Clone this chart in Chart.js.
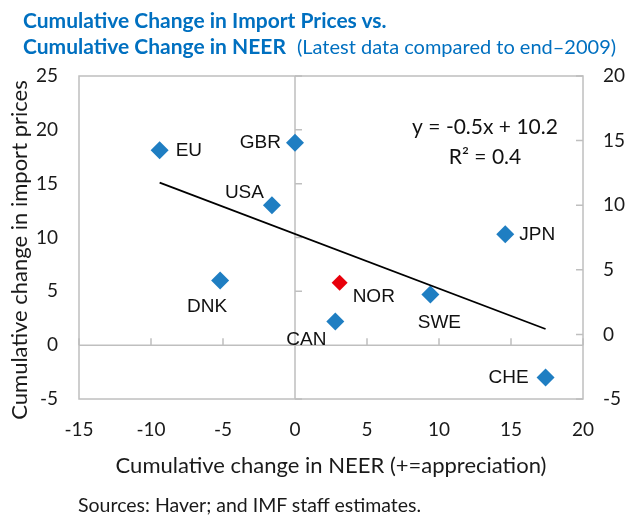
<!DOCTYPE html>
<html>
<head>
<meta charset="utf-8">
<script src="https://cdn.jsdelivr.net/npm/chart.js@4.4.1/dist/chart.umd.min.js"></script>
<style>
  html, body { margin: 0; padding: 0; background: #fff; }
  #wrap { position: relative; width: 626px; height: 516px; overflow: hidden; }
  #c { position: absolute; left: 0; top: 0; }
  #title { position: absolute; left: 23px; top: 7px; font-family: Lato, sans-serif; color: #0070C0; font-size: 21px; line-height: 26px; white-space: nowrap; }
  #title b { font-weight: 700; }
  #title .sub { font-weight: 400; font-size: 20px; margin-left: 11px; }
  #source { position: absolute; left: 78px; top: 494px; font-family: Lato, sans-serif; font-size: 19.5px; line-height: 22px; color: #1a1a1a; white-space: nowrap; }
</style>
</head>
<body>
<div id="wrap">
  <canvas id="c" width="626" height="516"></canvas>
  <div id="title"><b>Cumulative Change in Import Prices vs.</b><br><b>Cumulative Change in NEER</b><span class="sub">(Latest data compared to end–2009)</span></div>
  <div id="source">Sources: Haver; and IMF staff estimates.</div>
</div>
<script>
// ---- Data ----
const countries = ['EU', 'GBR', 'USA', 'DNK', 'NOR', 'SWE', 'CAN', 'JPN', 'CHE'];
const neerChange = [-9.4, 0.0, -1.6, -5.2, 3.1, 9.4, 2.8, 14.6, 17.4];
const importPriceChange = [18.1, 18.8, 13.0, 6.0, 5.8, 4.7, 2.2, 10.3, -3.0];
const highlightCountry = 'NOR';
const trendNeer = [-9.4, 17.4];
const trendImport = [15.1, 1.5];
const trendEquation = 'y = -0.5x + 10.2';
const trendR2 = 'R² = 0.4';
const xTicks = [-15, -10, -5, 0, 5, 10, 15, 20];
const yLeftTicks = [-5, 0, 5, 10, 15, 20, 25];
const yRightTicks = [-5, 0, 5, 10, 15, 20];
const xTitle = 'Cumulative change in NEER (+=appreciation)';
const yTitle = 'Cumulative change in import prices';

// ---- Styling / layout ----
const BLUE = '#1F7EC2';
const RED = '#E8000B';
const GRAY = '#BFBFBF';
const TICK_FONT = { family: 'Lato', size: 19 };
const labelPlacement = {
  EU:  { dx: 16,  dy: 0,  align: 'left' },
  GBR: { dx: -14, dy: 0,  align: 'right' },
  USA: { dx: -8,  dy: -12, align: 'right' },
  DNK: { dx: -13, dy: 26, align: 'center' },
  NOR: { dx: 13,  dy: 14, align: 'left' },
  SWE: { dx: 9,   dy: 28, align: 'center' },
  CAN: { dx: -29, dy: 18, align: 'center' },
  JPN: { dx: 14,  dy: 0,  align: 'left' },
  CHE: { dx: -17, dy: 0,  align: 'right' }
};

const points = countries.map((c, i) => ({ x: neerChange[i], y: importPriceChange[i], label: c }));
const trendPoints = trendNeer.map((x, i) => ({ x: x, y: trendImport[i] }));

const decorPlugin = {
  id: 'decor',
  beforeDatasetsDraw(chart) {
    const { ctx, chartArea: a, scales } = chart;
    const x0 = scales.x.getPixelForValue(0);
    const y0 = scales.y.getPixelForValue(0);
    ctx.save();
    ctx.strokeStyle = GRAY;
    ctx.lineWidth = 1.5;
    ctx.beginPath();
    ctx.moveTo(x0, a.top); ctx.lineTo(x0, a.bottom);
    ctx.moveTo(a.left, y0); ctx.lineTo(a.right, y0);
    yLeftTicks.forEach(v => { const py = scales.y.getPixelForValue(v); ctx.moveTo(x0, py); ctx.lineTo(x0 + 7, py); });
    xTicks.forEach(v => { const px = scales.x.getPixelForValue(v); ctx.moveTo(px, y0); ctx.lineTo(px, y0 - 7); });
    yRightTicks.forEach(v => { const py = scales.y2.getPixelForValue(v); ctx.moveTo(a.right, py); ctx.lineTo(a.right - 7, py); });
    ctx.stroke();
    ctx.strokeRect(a.left, a.top, a.right - a.left, a.bottom - a.top);
    ctx.restore();

    // y title
    ctx.save();
    ctx.fillStyle = '#1a1a1a';
    ctx.font = '22px Lato';
    ctx.textAlign = 'center';
    ctx.textBaseline = 'middle';
    ctx.translate(20, 250);
    ctx.rotate(-Math.PI / 2);
    ctx.fillText(yTitle, 0, 0);
    ctx.restore();
  },
  afterDatasetsDraw(chart) {
    const { ctx, chartArea: a } = chart;
    const meta = chart.getDatasetMeta(0);
    ctx.save();
    ctx.fillStyle = '#111';
    ctx.font = '19px "Liberation Sans", Arial, sans-serif';
    ctx.textBaseline = 'middle';
    meta.data.forEach((el, i) => {
      const p = labelPlacement[countries[i]];
      ctx.textAlign = p.align;
      ctx.fillText(countries[i], el.x + p.dx, el.y + p.dy);
    });
    ctx.font = '21px Lato';
    ctx.textAlign = 'center';
    ctx.fillText(trendEquation, a.right - 98, a.top + 51);
    ctx.fillText(trendR2, a.right - 98, a.top + 81);
    ctx.restore();
  }
};

new Chart(document.getElementById('c'), {
  type: 'scatter',
  data: {
    datasets: [
      {
        label: 'Countries',
        data: points,
        pointStyle: 'rectRot',
        pointRadius: points.map(p => p.label === highlightCountry ? 8 : 9),
        pointHoverRadius: points.map(p => p.label === highlightCountry ? 8 : 9),
        pointBackgroundColor: points.map(p => p.label === highlightCountry ? RED : BLUE),
        pointBorderWidth: 0,
        order: 1
      },
      {
        label: 'Trend',
        data: trendPoints,
        type: 'scatter',
        showLine: true,
        borderColor: '#000',
        borderWidth: 1.8,
        pointRadius: 0,
        order: 0
      }
    ]
  },
  options: {
    responsive: false,
    animation: false,
    devicePixelRatio: 1,
    layout: { padding: { top: 76, left: 0, right: 0, bottom: 0 } },
    plugins: { legend: { display: false }, tooltip: { enabled: false } },
    scales: {
      x: {
        type: 'linear', position: 'bottom', min: -15, max: 20,
        afterBuildTicks: s => { s.ticks = xTicks.map(v => ({ value: v })); },
        ticks: { font: TICK_FONT, color: '#1a1a1a', padding: 19, maxRotation: 0 },
        grid: { display: false, drawTicks: false },
        border: { display: false },
        title: { display: true, text: xTitle, font: { family: 'Lato', size: 22 }, color: '#1a1a1a', padding: { top: 0, bottom: 37 } },
        afterFit: s => { s.height = 117; }
      },
      y: {
        type: 'linear', position: 'left', min: -5, max: 25,
        afterBuildTicks: s => { s.ticks = yLeftTicks.map(v => ({ value: v })); },
        ticks: { font: TICK_FONT, color: '#1a1a1a', padding: 21 },
        grid: { display: false, drawTicks: false },
        border: { display: false },
        afterFit: s => { s.width = 79; }
      },
      y2: {
        type: 'linear', position: 'right', min: -5, max: 20,
        afterBuildTicks: s => { s.ticks = yRightTicks.map(v => ({ value: v })); },
        ticks: { font: TICK_FONT, color: '#1a1a1a', padding: 20 },
        grid: { display: false, drawTicks: false },
        border: { display: false },
        afterFit: s => { s.width = 43; }
      }
    }
  },
  plugins: [decorPlugin]
});
</script>
</body>
</html>
